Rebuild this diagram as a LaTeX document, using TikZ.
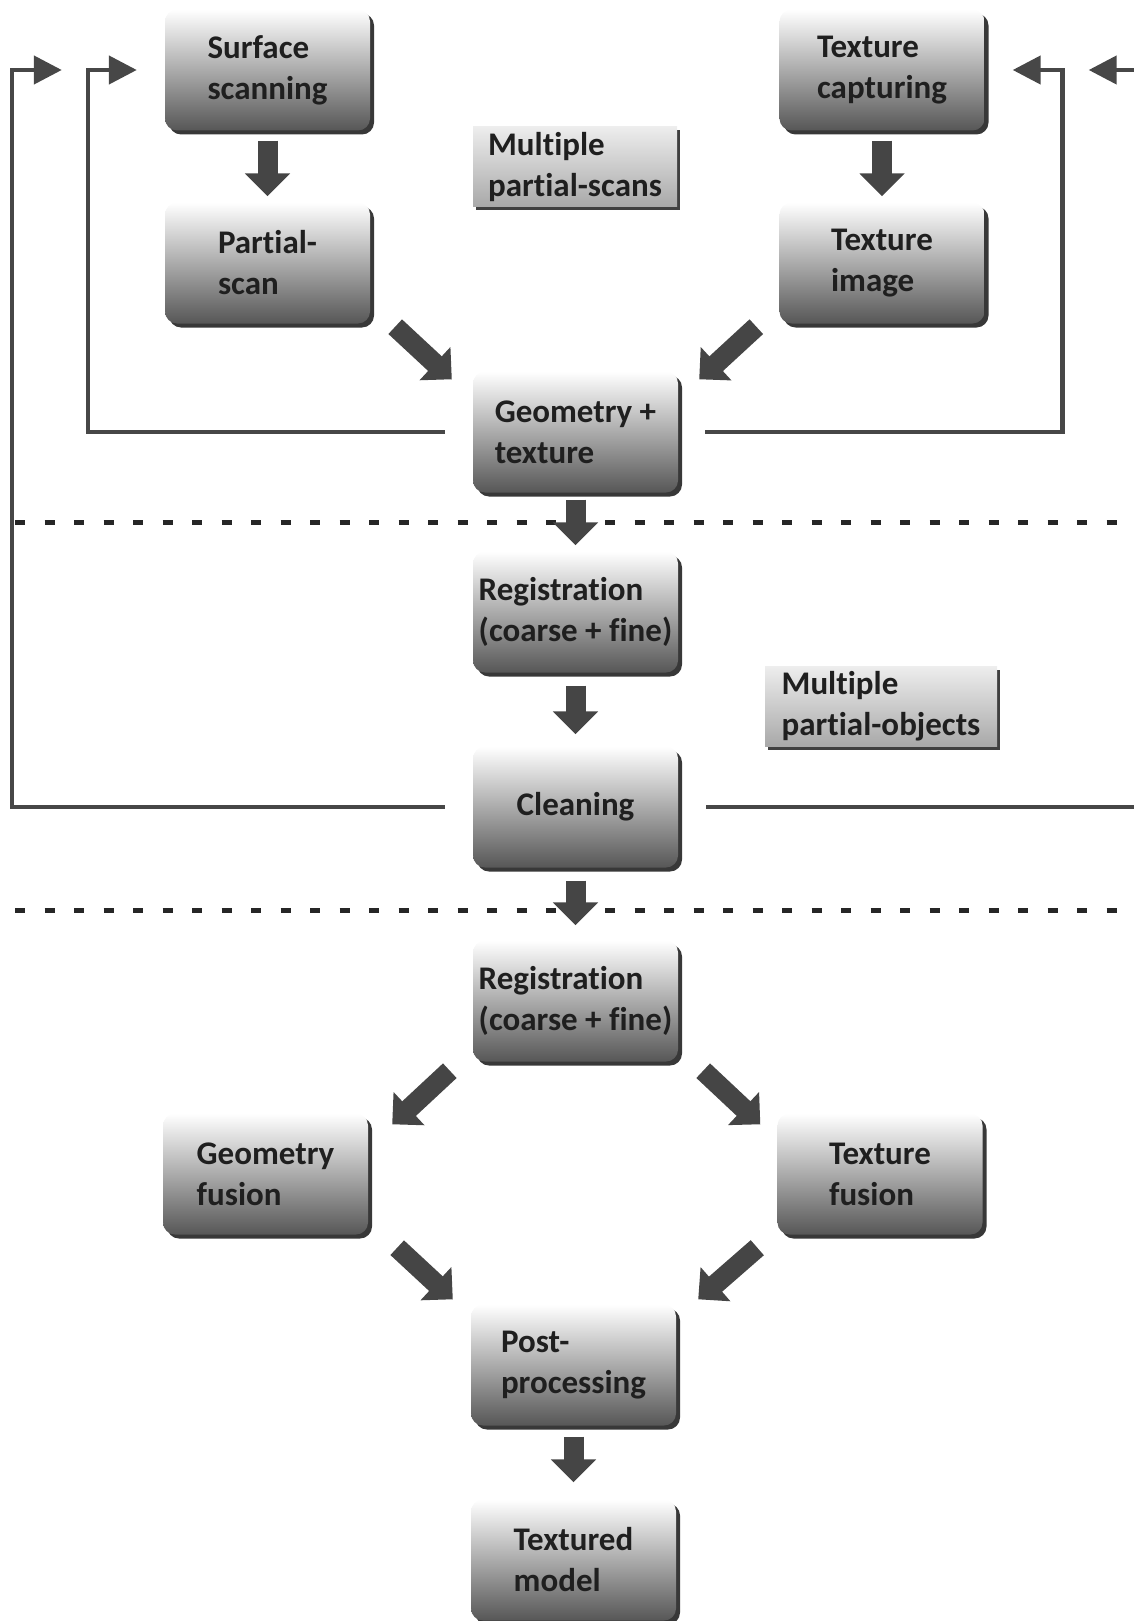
\documentclass[tikz,border=0pt]{standalone}
\usepackage{fontspec}
\setmainfont{Carlito}[Ligatures=NoCommon]
\usetikzlibrary{arrows.meta,positioning,shadows}
\definecolor{arrowgray}{HTML}{454545}
\definecolor{linegray}{HTML}{474747}

\begin{document}
\begin{tikzpicture}[x=1pt, y=-1pt,
  stagebox/.style={rounded corners=12pt, minimum width=205pt, minimum height=121pt, inner sep=0pt, align=left,
    top color=white, middle color=black!24, bottom color=black!66,
    general shadow={fill=black!78, shadow xshift=4pt, shadow yshift=-4pt},
    font=\fontsize{33}{41}\selectfont\bfseries, text=black!88},
  notebox/.style={minimum width=204pt, minimum height=80pt, inner sep=0pt, align=left,
    top color=black!7, bottom color=black!34,
    general shadow={fill=black!75, shadow xshift=3pt, shadow yshift=-3pt},
    font=\fontsize{33}{41}\selectfont\bfseries, text=black!88},
  fatarrow/.style={draw=arrowgray, line width=20pt, -{Triangle[width=44pt,length=23pt]}},
  loopline/.style={draw=linegray, line width=4.5pt, -{Triangle[width=28pt,length=28pt]}},
  sepline/.style={draw=black!85, line width=5pt, dash pattern=on 10pt off 19.5pt}]

\useasboundingbox (0,0) rectangle (1134,1621);

\coordinate (sep1l) at (15,522);
\coordinate (sep1r) at (1134,522);
\coordinate (sep2l) at (15,910);
\coordinate (sep2r) at (1134,910);
\draw[sepline] (sep1l) -- (sep1r);
\draw[sepline] (sep2l) -- (sep2r);

\node[stagebox] (surf) at (267.5,70) {Surface\\scanning};
\node[stagebox] (pscan) at (267.5,263) {Partial-\\scan};
\node[stagebox] (texcap) at (882,70) {Texture\\capturing};
\node[stagebox] (teximg) at (882,263) {Texture\\image};
\node[stagebox] (geo) at (575.5,432) {Geometry +\\texture};
\node[stagebox] (reg1) at (575.5,612) {Registration\\(coarse + fine)};
\node[stagebox] (clean) at (575.5,807) {Cleaning};
\node[stagebox] (reg2) at (575.5,1001) {Registration\\(coarse + fine)};
\node[stagebox] (geofus) at (265.5,1174) {Geometry\\fusion};
\node[stagebox] (texfus) at (880,1174) {Texture\\fusion};
\node[stagebox] (post) at (573.5,1365) {Post-\\processing};
\node[stagebox] (model) at (573.5,1560) {Textured\\model};

\node[notebox] (mscans) at (575,167) {Multiple\\partial-scans};
\node[notebox, minimum width=232pt] (mobjs) at (881,706.5) {Multiple\\partial-objects};

\draw[fatarrow, shorten <=10pt, shorten >=6pt] (surf) -- (pscan);
\draw[fatarrow, shorten <=10pt, shorten >=6pt] (texcap) -- (teximg);
\draw[fatarrow] ([shift={(25,3)}]pscan.south east) -- ([shift={(-21,8)}]geo.north west);
\draw[fatarrow] ([shift={(-23,3)}]teximg.south west) -- ([shift={(21,8)}]geo.north east);
\draw[fatarrow, shorten <=7pt, shorten >=6pt] (geo) -- (reg1);
\draw[fatarrow, shorten <=13pt, shorten >=12pt] (reg1) -- (clean);
\draw[fatarrow, shorten <=13pt, shorten >=15pt] (clean) -- (reg2);
\draw[fatarrow] ([shift={(-23,9)}]reg2.south west) -- ([shift={(24,11)}]geofus.north east);
\draw[fatarrow] ([shift={(25,9)}]reg2.south east) -- ([shift={(-17,11)}]texfus.north west);
\draw[fatarrow] ([shift={(29,13)}]geofus.south east) -- ([shift={(-18,-5)}]post.north west);
\draw[fatarrow] ([shift={(-20,13)}]texfus.south west) -- ([shift={(22,-5)}]post.north east);
\draw[fatarrow, shorten <=11pt, shorten >=17pt] (post) -- (model);

\draw[loopline] ([xshift=-28pt]geo.west) -| ([xshift=-77pt]surf.west) -- ([xshift=-28pt]surf.west);
\draw[loopline] ([xshift=-28pt]clean.west) -| ([xshift=-153pt]surf.west) -- ([xshift=-103pt]surf.west);
\draw[loopline] ([xshift=27pt]geo.east) -| ([xshift=78pt]texcap.east) -- ([xshift=28pt]texcap.east);
\draw[loopline] ([xshift=28pt]clean.east) -| ([xshift=160pt]texcap.east) -- ([xshift=104pt]texcap.east);
\end{tikzpicture}
\end{document}
